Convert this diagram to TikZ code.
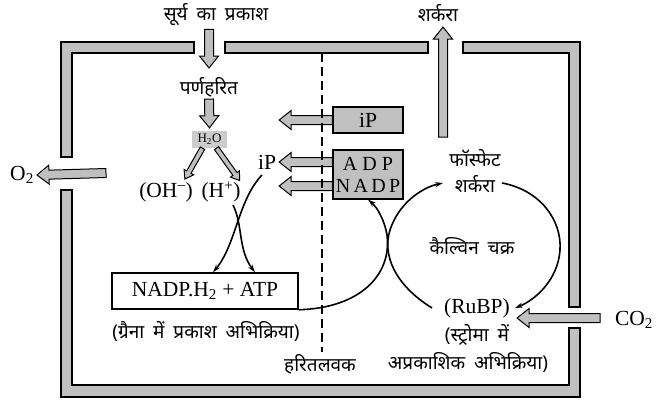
\documentclass[tikz,border=0pt]{standalone}
\usepackage{fontspec}
\setmainfont{Liberation Serif}
\newfontfamily\hindi[Script=Devanagari, WordSpace=1.8]{Noto Sans}
\usetikzlibrary{arrows.meta,positioning,calc}
\definecolor{bargray}{RGB}{192,192,192}
\definecolor{watergray}{RGB}{204,204,204}

\begin{document}
\begin{tikzpicture}[
	x=1pt, y=-1pt,
	every node/.style={font=\fontsize{21.5}{23}\selectfont, inner sep=0pt},
	hin/.style={font=\hindi\fontsize{19}{21}\selectfont},
	box/.style={draw, line width=1.2pt, fill=bargray, minimum width=70pt, align=center},
	bar/.style={draw, line width=1.2pt, fill=bargray},
	fatarrow/.style args={#1/#2/#3}{draw, line width=1pt, fill=bargray, to path={
		let \p1=(\tikztostart), \p2=(\tikztotarget),
		\n1={atan2(\y2-\y1,\x2-\x1)}, \n2={veclen(\x2-\x1,\y2-\y1)-#3} in
		($(\p1)+(\n1+90:#1)$)
		-- ($(\p1)+(\n1:{\n2*1pt})+(\n1+90:#1)$)
		-- ($(\p1)+(\n1:{\n2*1pt})+(\n1+90:#2)$)
		-- (\p2)
		-- ($(\p1)+(\n1:{\n2*1pt})+(\n1-90:#2)$)
		-- ($(\p1)+(\n1:{\n2*1pt})+(\n1-90:#1)$)
		-- ($(\p1)+(\n1-90:#1)$) -- cycle}},
	bigarrow/.style={fatarrow=4.5pt/9.5pt/12pt},
	smallarrow/.style={fatarrow=2.5pt/5.5pt/8pt},
	flow/.style={line width=1.6pt, -{Stealth[length=8pt,width=5pt]}}
	]
	
	\useasboundingbox (0,0) rectangle (656,400);
	
	\draw[bar] (194,42) -- (61,42) -- (61,157) -- (72,157) -- (72,53) -- (194,53) -- cycle;
	\draw[bar] (225,42) -- (428,42) -- (428,53) -- (225,53) -- cycle;
	\draw[bar] (463,42) -- (580,42) -- (580,307) -- (569,307) -- (569,53) -- (463,53) -- cycle;
	\draw[bar] (61,190) -- (61,397) -- (580,397) -- (580,328) -- (569,328) -- (569,385) -- (72,385) -- (72,190) -- cycle;
	
	\node[hin] (sun) at (216,15) {सूर्य का प्रकाश};
	\node[hin] (chl) at (209,87) {पर्णहरित};
	\node[fill=watergray, minimum width=35pt, minimum height=17pt, font=\fontsize{13}{14}\selectfont] (h2o) at (209.5,139.5) {H\textsubscript{2}O};
	\node (oh) at (166,192) {(OH\textsuperscript{--})};
	\node (hp) at (221,192) {(H\textsuperscript{+})};
	\node (ipl) at (267,162) {iP};
	\node[box, minimum height=26pt] (ip) at (368,120) {iP};
	\node[box, minimum height=49pt, font=\fontsize{20}{22}\selectfont] (adp) at (368,174.5) {A D P\\N\,A\,D\,P};
	\node[draw, line width=1.5pt, minimum width=186pt, minimum height=36pt] (nadph) at (205,291) {NADP.H\textsubscript{2} + ATP};
	\node[hin] (grana) at (206,331) {(ग्रैना में प्रकाश अभिक्रिया)};
	\node[hin] (thy) at (320,364) {हरितलवक};
	\node[hin] (phos) at (475,158) {फॉस्फेट};
	\node[hin] (sug) at (475,184) {शर्करा};
	\node[hin] (calvin) at (472,246) {कैल्विन चक्र};
	\node (rubp) at (477,308) {(RuBP)};
	\node[hin, below=6pt of rubp] (str1) {(स्ट्रोमा में};
	\node[hin] (str2) at (468,362) {अप्रकाशिक अभिक्रिया)};
	\node (co2) at (634,320) {CO\textsubscript{2}};
	\node (o2) at (22,175) {O\textsubscript{2}};
	\node[hin] (sugout) at (438,13) {शर्करा};
	
	\coordinate (sunGap) at (209,68);
	\coordinate (o2Gap) at (106,173);
	\coordinate (co2Gap) at (600,318);
	\coordinate (sugGap) at (443,137);
	\coordinate (sugTip) at (443,27);
	
	\draw[bigarrow] ([yshift=-3pt]sun.south -| sunGap) to (sunGap);
	\draw[bigarrow] ([yshift=-2pt]chl.south) to ([yshift=3pt]h2o.north);
	\draw[smallarrow] ([xshift=-7pt]h2o.south) to ([xshift=-8pt,yshift=3pt]oh.north east);
	\draw[smallarrow] ([xshift=7pt]h2o.south) to ([xshift=-1pt,yshift=1pt]hp.north east);
	\draw[bigarrow] (ip.west) to ([xshift=3pt]ip.west -| ipl.east);
	\draw[bigarrow] (adp.west |- ipl) to ([xshift=3pt]ipl.east);
	\draw[bigarrow] ([yshift=-11.5pt]adp.west) to ([xshift=3pt,yshift=-11.5pt]adp.west -| ipl.east);
	\draw[bigarrow] (o2Gap) to ([xshift=3pt]o2.east);
	\draw[bigarrow] (co2Gap) to ([xshift=7pt]rubp.east |- co2Gap);
	\draw[bigarrow] (sugGap) to (sugTip);
	
	\draw[flow] (262,175) .. controls (238,200) and (236,245) .. ([xshift=8pt]nadph.north);
	\draw[flow] (233,205) .. controls (243,225) and (238,250) .. ([xshift=50pt]nadph.north);
	\draw[flow] (nadph.south east) .. controls (360,308) and (392,275) .. (387,235) .. controls (385,222) and (378,208) .. (adp.south);
	\draw[flow] (432,308) .. controls (395,285) and (382,255) .. (390,230) .. controls (398,205) and (420,188) .. (443,183);
	\draw[flow] (502,183) .. controls (540,190) and (562,220) .. (560,250) .. controls (558,280) and (535,300) .. (515,308);
	
	\draw[line width=1.8pt, dash pattern=on 9pt off 5pt] (322,53) -- (322,352);
	
\end{tikzpicture}
\end{document}
